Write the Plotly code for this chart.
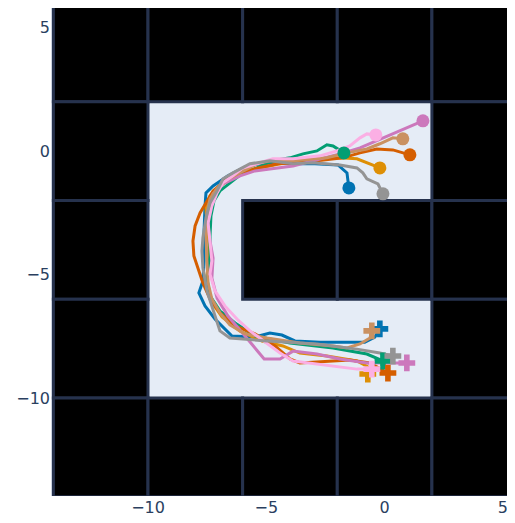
import plotly.graph_objects as go

# ---- map: wall cells (lower-left corners), each cell is 4x4 units ----
cell_size = 4
wall_x0 = [-14, -10, -6, -2, 2,
           -14, 2,
           -14, -6, -2, 2,
           -14, 2,
           -14, -10, -6, -2, 2]
wall_y0 = [2, 2, 2, 2, 2,
           -2, -2,
           -6, -6, -6, -6,
           -10, -10,
           -14, -14, -14, -14, -14]

colors = ["#0173B2", "#DE8F05", "#029E73", "#D55E00",
          "#CC78BC", "#CA9161", "#FBAFE4", "#949494"]

# ---- trajectories ----
blue_x = [-1.51, -1.59, -1.97, -2.94, -4.0, -5.06, -5.90, -6.62, -7.25, -7.55, -7.59, -7.63, -7.63,
          -7.68, -7.85, -7.59, -7.17, -6.45, -5.48, -4.85, -4.34, -3.79, -2.73, -1.68, -0.84, -0.41, -0.20]
blue_y = [-1.49, -0.88, -0.56, -0.51, -0.51, -0.47, -0.64, -1.0, -1.41, -1.69, -2.22, -3.23, -4.45,
          -5.26, -5.74, -6.27, -6.80, -7.49, -7.53, -7.37, -7.45, -7.69, -7.74, -7.74, -7.74, -7.53, -7.20]

orange_x = [-0.20, -0.62, -1.17, -1.89, -2.73, -3.58, -4.42, -5.48, -6.32, -6.96, -7.38, -7.55, -7.51,
            -7.42, -7.46, -7.55, -7.34, -6.87, -6.11, -5.18, -4.30, -3.58, -2.44, -1.17, -0.75, -0.71]
orange_y = [-0.68, -0.51, -0.31, -0.27, -0.31, -0.39, -0.51, -0.72, -1.00, -1.41, -1.81, -2.30, -3.03,
            -3.84, -4.65, -5.34, -6.07, -6.72, -7.29, -7.69, -7.89, -8.18, -8.30, -8.50, -8.71, -9.03]

green_x = [-1.72, -2.18, -2.44, -2.86, -3.45, -4.0, -4.72, -5.40, -5.99, -6.54, -6.96, -7.21, -7.34,
           -7.38, -7.38, -7.51, -7.38, -6.96, -6.32, -5.48, -4.0, -2.18, -0.75, -0.07]
green_y = [-0.07, 0.21, 0.26, 0.01, -0.11, -0.27, -0.39, -0.68, -0.88, -1.28, -1.61, -2.01, -2.62,
           -3.44, -4.25, -5.14, -5.86, -6.47, -6.96, -7.49, -7.77, -7.97, -8.22, -8.50]

verm_x = [1.07, 0.35, -0.33, -1.04, -1.76, -2.73, -3.58, -4.51, -5.35, -6.11, -6.75, -7.25, -7.51,
          -7.80, -8.01, -8.10, -8.06, -7.89, -7.68, -7.38, -6.96, -6.32, -5.48, -4.63, -4.0, -3.58,
          -2.31, -1.47, -0.62, 0.14]
verm_y = [-0.15, 0.05, 0.09, -0.07, -0.27, -0.39, -0.47, -0.51, -0.68, -0.88, -1.20, -1.61, -2.01,
          -2.50, -3.03, -3.64, -4.25, -4.77, -5.34, -5.99, -6.55, -7.08, -7.40, -7.89, -8.42, -8.58,
          -8.50, -8.46, -8.58, -8.99]

purple_x = [1.62, 0.65, -0.33, -1.04, -1.89, -2.73, -3.87, -4.85, -5.48, -6.11, -6.83, -7.25, -7.46,
            -7.46, -7.38, -7.25, -7.30, -7.08, -6.62, -5.90, -5.35, -5.09, -4.42, -3.87, -2.86, -1.89,
            -0.75, 0.94]
purple_y = [1.23, 0.82, 0.42, 0.13, -0.11, -0.31, -0.60, -0.72, -0.80, -1.00, -1.33, -1.73, -2.42,
            -3.03, -3.64, -4.33, -5.14, -5.95, -6.68, -7.49, -8.10, -8.42, -8.42, -8.10, -8.22, -8.42,
            -8.58, -8.58]

tan_x = [0.77, 0.35, -0.20, -0.75, -1.59, -2.44, -3.87, -4.85, -5.40, -6.11, -6.66, -7.08, -7.38,
         -7.51, -7.55, -7.51, -7.46, -7.30, -6.96, -6.54, -5.90, -4.97, -3.58, -2.18, -1.59, -1.04,
         -0.62, -0.54]
tan_y = [0.50, 0.54, 0.30, 0.09, -0.07, -0.27, -0.39, -0.39, -0.51, -0.88, -1.16, -1.49, -1.93,
         -2.50, -3.44, -4.45, -5.34, -5.99, -6.55, -7.04, -7.40, -7.57, -7.77, -7.89, -7.97, -7.81,
         -7.57, -7.28]

pink_x = [-0.37, -0.75, -1.04, -1.47, -2.02, -2.73, -3.87, -4.72, -5.40, -5.99, -6.41, -6.83, -7.08,
          -7.30, -7.46, -7.38, -7.30, -7.38, -7.17, -6.75, -6.24, -5.69, -4.97, -4.42, -3.87, -3.16,
          -2.18, -1.17, -0.54]
pink_y = [0.66, 0.70, 0.54, 0.21, 0.01, -0.19, -0.31, -0.31, -0.51, -0.68, -1.00, -1.28, -1.69,
          -2.22, -2.91, -3.64, -4.45, -4.98, -5.66, -6.27, -6.80, -7.28, -7.81, -8.18, -8.50, -8.58,
          -8.71, -8.83, -8.83]

gray_x = [-0.07, -0.28, -0.75, -0.92, -1.17, -1.89, -3.03, -3.87, -4.85, -5.69, -6.41, -6.83, -7.08,
          -7.38, -7.55, -7.68, -7.72, -7.68, -7.51, -7.25, -6.96, -6.54, -4.97, -2.86, -1.17, -0.20, 0.35]
gray_y = [-1.73, -1.33, -1.12, -0.88, -0.68, -0.56, -0.47, -0.51, -0.39, -0.51, -0.88, -1.12, -1.61,
          -2.10, -2.70, -3.51, -4.04, -4.73, -5.66, -6.47, -7.28, -7.57, -7.69, -7.81, -8.02, -8.18, -8.30]

traj_x = [blue_x, orange_x, green_x, verm_x, purple_x, tan_x, pink_x, gray_x]
traj_y = [blue_y, orange_y, green_y, verm_y, purple_y, tan_y, pink_y, gray_y]

fig = go.Figure()

for tx, ty, c in zip(traj_x, traj_y, colors):
    fig.add_trace(go.Scatter(x=tx, y=ty, mode="lines",
                             line=dict(color=c, width=3), hoverinfo="skip"))
for tx, ty, c in zip(traj_x, traj_y, colors):
    fig.add_trace(go.Scatter(x=[tx[0]], y=[ty[0]], mode="markers",
                             marker=dict(color=c, size=13, symbol="circle")))
    fig.add_trace(go.Scatter(x=[tx[-1]], y=[ty[-1]], mode="markers",
                             marker=dict(color=c, size=14, symbol="cross")))

for x0, y0 in zip(wall_x0, wall_y0):
    fig.add_shape(type="rect", xref="x", yref="y",
                  x0=x0, y0=y0, x1=x0 + cell_size, y1=y0 + cell_size,
                  fillcolor="black", line=dict(color="#26324d", width=3),
                  layer="below")

fig.update_layout(
    width=515, height=523,
    margin=dict(l=43, r=0, t=0, b=35, autoexpand=False),
    plot_bgcolor="#E5ECF6",
    paper_bgcolor="white",
    showlegend=False,
    font=dict(family="DejaVu Sans, Verdana, sans-serif", size=16, color="#2a3f5f"),
)
fig.update_xaxes(range=[-14.1, 5.85], showgrid=False, zeroline=False, automargin=False,
                 tickvals=[-10, -5, 0, 5], ticks="", showline=False)
fig.update_yaxes(range=[-13.97, 5.8], showgrid=False, zeroline=False, automargin=False,
                 tickvals=[-10, -5, 0, 5], ticks="", showline=False)

fig.write_html("out.html")
